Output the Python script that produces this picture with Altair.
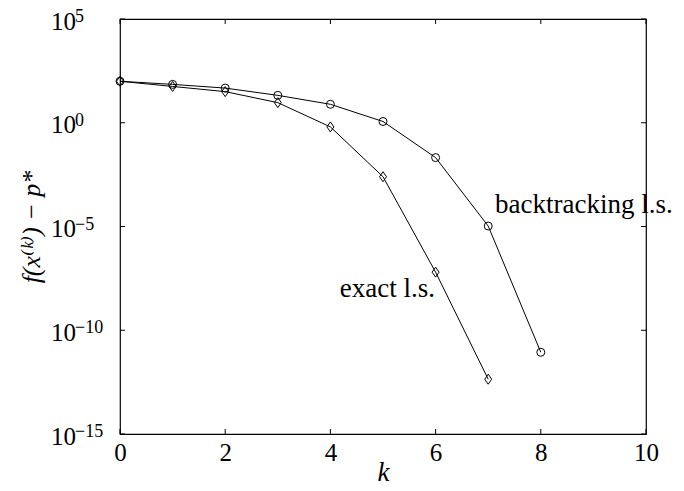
import altair as alt
import pandas as pd

# ---- data ----
k_back = [0, 1, 2, 3, 4, 5, 6, 7, 8]
f_back = [100, 70.8, 46.8, 20.9, 7.76, 1.15, 0.0209, 1.05e-5, 8.7e-12]
k_exact = [0, 1, 2, 3, 4, 5, 6, 7]
f_exact = [100, 56.2, 31.6, 9.33, 0.631, 2.51e-3, 6.31e-8, 4.37e-13]

x_ticks = [0, 2, 4, 6, 8, 10]
y_ticks = [1e5, 1, 1e-5, 1e-10, 1e-15]
y_tick_sup = ["5", "0", "\u22125", "\u221210", "\u221215"]

back_label = ["backtracking l.s."]
back_label_k = [7.13]
back_label_f = [4.5e-5]
exact_label = ["exact l.s."]
exact_label_k = [5.99]
exact_label_f = [4.0e-9]

FONT = "'Liberation Serif', 'DejaVu Serif', serif"
W, H = 526, 415

df_back = pd.DataFrame({"k": k_back, "f": f_back})
df_exact = pd.DataFrame({"k": k_exact, "f": f_exact})
df_xt = pd.DataFrame({"k": x_ticks})
df_yt = pd.DataFrame({"f": y_ticks, "sup": y_tick_sup, "base": ["10"] * len(y_ticks)})
df_bl = pd.DataFrame({"k": back_label_k, "f": back_label_f, "t": back_label})
df_el = pd.DataFrame({"k": exact_label_k, "f": exact_label_f, "t": exact_label})

xscale = alt.Scale(domain=[0, 10], nice=False, zero=False)
yscale = alt.Scale(type="log", domain=[1e-15, 1e5], nice=False)

xaxis = alt.Axis(values=x_ticks, ticks=False, domain=False, grid=False,
                 labelFont=FONT, labelFontSize=25, labelColor="black",
                 labelPadding=6, labelFlush=False, labelOverlap=False,
                 title="k", titleFont=FONT, titleFontSize=27,
                 titleFontStyle="italic", titleFontWeight="normal",
                 titleColor="black", titleY=46, titleBaseline="alphabetic")
yaxis = alt.Axis(labels=False, ticks=False, domain=False, grid=False,
                 title="f(x\u207d\u1d4f\u207e) \u2212 p*", titleFont=FONT,
                 titleFontSize=26, titleFontStyle="italic",
                 titleFontWeight="normal", titleColor="black",
                 titleAngle=270, titleX=-81, titleY=207.5,
                 titleAlign="center", titleBaseline="alphabetic")

X = alt.X("k:Q", scale=xscale, axis=xaxis)
Y = alt.Y("f:Q", scale=yscale, axis=yaxis)

back_line = alt.Chart(df_back).mark_line(color="black", strokeWidth=1).encode(x=X, y=Y)
back_pts = alt.Chart(df_back).mark_point(shape="circle", filled=False, color="black",
                                         size=64, strokeWidth=1, opacity=1).encode(x=X, y=Y)
exact_line = alt.Chart(df_exact).mark_line(color="black", strokeWidth=1).encode(x=X, y=Y)
exact_pts = alt.Chart(df_exact).mark_point(shape="M0,-1L0.7,0L0,1L-0.7,0Z", filled=False,
                                           color="black", size=100, strokeWidth=1,
                                           opacity=1).encode(x=X, y=Y)

tick_style = dict(color="black", strokeWidth=1)
xt_bottom = alt.Chart(df_xt).mark_rule(**tick_style).encode(x=X, y=alt.value(H), y2=alt.value(H - 5))
xt_top = alt.Chart(df_xt).mark_rule(**tick_style).encode(x=X, y=alt.value(0), y2=alt.value(5))
yt_left = alt.Chart(df_yt).mark_rule(**tick_style).encode(y=Y, x=alt.value(0), x2=alt.value(5))
yt_right = alt.Chart(df_yt).mark_rule(**tick_style).encode(y=Y, x=alt.value(W), x2=alt.value(W - 5))

ylab_base = alt.Chart(df_yt).mark_text(font=FONT, fontSize=25, color="black", align="left",
                                       baseline="alphabetic", dy=10.5).encode(
    y=Y, x=alt.value(-69), text="base:N")
ylab_sup = alt.Chart(df_yt).mark_text(font=FONT, fontSize=18, color="black", align="left",
                                      baseline="alphabetic", dy=3).encode(
    y=Y, x=alt.value(-45), text="sup:N")

back_txt = alt.Chart(df_bl).mark_text(font=FONT, fontSize=27, color="black", align="left",
                                      baseline="alphabetic").encode(x=X, y=Y, text="t:N")
exact_txt = alt.Chart(df_el).mark_text(font=FONT, fontSize=27, color="black", align="right",
                                       baseline="alphabetic").encode(x=X, y=Y, text="t:N")

chart = alt.layer(
    back_line, exact_line, back_pts, exact_pts,
    xt_bottom, xt_top, yt_left, yt_right,
    ylab_base, ylab_sup, back_txt, exact_txt,
).properties(
    width=W, height=H, autosize="none",
    padding={"left": 112, "top": 11, "right": 30, "bottom": 49},
    background="white",
).configure_view(stroke="black", strokeWidth=1.2)

chart.save("out.html", embed_options={"renderer": "svg", "actions": False})
